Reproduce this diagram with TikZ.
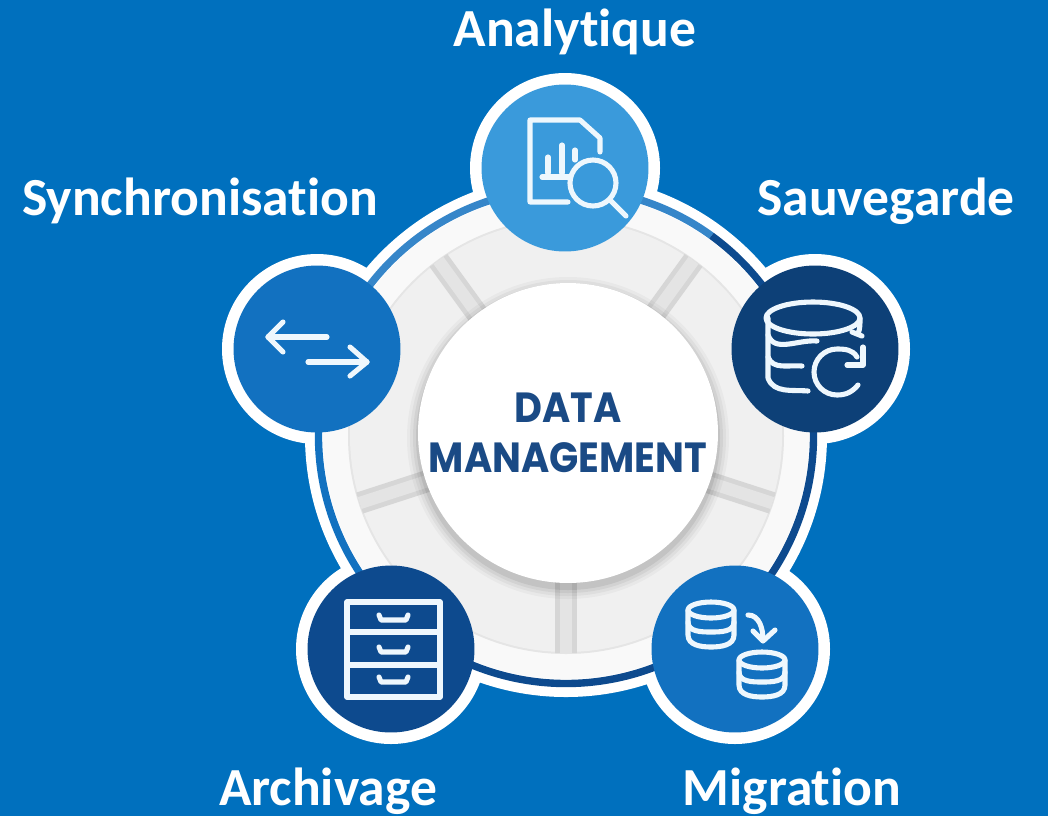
\documentclass[tikz,border=0pt]{standalone}
\usepackage{fontspec}
\setmainfont[Ligatures=NoCommon]{Carlito}
\newfontfamily\datafont[FakeStretch=0.91]{Poppins}
\definecolor{bgblue}{HTML}{0070BE}
\definecolor{lightbub}{HTML}{3A9ADB}
\definecolor{darkbub}{HTML}{0D4077}
\definecolor{midbub}{HTML}{1271C0}
\definecolor{navybub}{HTML}{0D4A8E}
\definecolor{datablue}{HTML}{1A4A85}
\definecolor{iconwhite}{HTML}{EEF7FD}
\tikzset{
	bubble/.style={circle,minimum size=3.34cm,inner sep=0pt},
	labeltext/.style={text=white,font=\bfseries\fontsize{30.5}{36}\selectfont,anchor=base,inner sep=0pt},
	icon/.style={draw=iconwhite,line width=2.9pt,line cap=round,line join=round},
	ringline/.style={line width=4.2pt},
	gapline/.style={line width=12.5pt,draw=gray!32}
}
\begin{document}
\begin{tikzpicture}[x=.02cm,y=-.02cm]
	\useasboundingbox (0,0) rectangle (1048,816);
	\fill[bgblue] (0,0) rectangle (1048,816);

	\coordinate (ringc) at (566,436);
	\coordinate (ana) at (565,168);
	\coordinate (sau) at (815,349);
	\coordinate (mig) at (735,649);
	\coordinate (arc) at (391,649);
	\coordinate (syn) at (317,349);

	% white halos, then the ring
	\foreach \c in {ana,sau,mig,arc,syn}
		\fill[white] (\c) circle[radius=95];
	\fill[white] (ringc) circle[radius=261];
	\draw[ringline,draw=midbub!85!white] (ringc) ++(-90:247.5) arc[start angle=-90,end angle=-54,radius=247.5];
	\draw[ringline,draw=navybub] (ringc) ++(-54:247.5) arc[start angle=-54,end angle=54,radius=247.5];
	\draw[ringline,draw=navybub] (ringc) ++(54:247.5) arc[start angle=54,end angle=126,radius=247.5];
	\draw[ringline,draw=midbub] (ringc) ++(126:247.5) arc[start angle=126,end angle=198,radius=247.5];
	\draw[ringline,draw=midbub!85!white] (ringc) ++(198:247.5) arc[start angle=198,end angle=270,radius=247.5];

	% grey panels
	\fill[gray!5] (ringc) circle[radius=243];
	\fill[gray!20] (ringc) circle[radius=218];
	\fill[gray!12] (ringc) circle[radius=216];
	\foreach \a in {18,90,162,234,306} {
		\draw[gapline] (ringc) -- ([shift={(\a:217)}]ringc);
		\draw[line width=7pt,draw=gray!21] (ringc) -- ([shift={(\a:217)}]ringc);
	}
	\foreach \r/\o in {161/.03,158/.04,155/.05,152/.07}
		\fill[black,opacity=\o] (568,438) circle[radius=\r];

	\node[circle,fill=white,minimum size=6cm,inner sep=0pt,align=center,text=datablue,
		font=\datafont\bfseries\fontsize{24}{28.5}\selectfont] (centre) at (568,433) {DATA\\MANAGEMENT};

	% the five bubbles
	\node[bubble,fill=lightbub] (analytique) at (ana) {};
	\node[bubble,fill=darkbub] (sauvegarde) at (sau) {};
	\node[bubble,fill=midbub] (migration) at (mig) {};
	\node[bubble,fill=navybub] (archivage) at (arc) {};
	\node[bubble,fill=midbub] (synchro) at (syn) {};

	\node[labeltext] (lana) at (575,46) {Analytique};
	\node[labeltext] (lsyn) at (200,215) {Synchronisation};
	\node[labeltext] (lsau) at (886,215) {Sauvegarde};
	\node[labeltext] (larc) at (328,805) {Archivage};
	\node[labeltext] (lmig) at (792,805) {Migration};

	% analytique icon
	\draw[icon] (568,202) -- (530,202) -- (530,120) -- (580,120) -- (600,138) -- (600,152);
	\draw[icon] (548,157) -- (548,173) (562,145) -- (562,173) (575,150) -- (575,160) (542,177) -- (570,177);
	\draw[icon] (593,183) circle[radius=23];
	\draw[icon] (610,200) -- (626,216);

	% sauvegarde icon
	\draw[icon] (813,318) ellipse[x radius=47,y radius=16];
	\draw[icon] (768,318) -- (768,378) to[out=-70,in=175] (808,391);
	\draw[icon] (768,335) to[out=-70,in=175] (817,341);
	\draw[icon] (768,357) to[out=-70,in=175] (802,366);
	\draw[icon] (858,385) to[out=230,in=0] (837,395) to[out=180,in=270] (814,372) to[out=90,in=180] (837,349) to[out=0,in=120] (857,357);
	\draw[icon] (863,347) -- (863,365) -- (847,365);
	\draw[icon] (860,318) to[out=-90,in=70] (858,334);
	\draw[icon] (852,332) -- (862,336);

	% migration icon
	\draw[icon] (711,610) ellipse[x radius=23,y radius=8];
	\draw[icon] (688,610) -- (688,635) to[out=270,in=180] (711,647) to[out=0,in=270] (734,635) -- (734,610);
	\draw[icon] (688,622) to[out=270,in=180] (711,632) to[out=0,in=270] (734,622);
	\draw[icon] (762,660) ellipse[x radius=23,y radius=8];
	\draw[icon] (739,660) -- (739,685) to[out=270,in=180] (762,697) to[out=0,in=270] (785,685) -- (785,660);
	\draw[icon] (739,672) to[out=270,in=180] (762,682) to[out=0,in=270] (785,672);
	\draw[icon] (748,615) to[out=0,in=90] (763,640);
	\draw[icon] (753,631) -- (763,641) -- (775,630);

	% archivage icon
	\draw[icon] (347,602) rectangle (440,697);
	\draw[icon] (347,632) -- (440,632) (347,665) -- (440,665);
	\foreach \y in {615,647,677}
		\draw[icon] (379,\y) -- (381,\y+5) -- (406,\y+5) -- (408,\y);

	% synchronisation icon
	\draw[icon] (327,337) -- (268,337);
	\draw[icon] (283,322) -- (268,337) -- (283,352);
	\draw[icon] (308,362) -- (367,362);
	\draw[icon] (350,347) -- (367,362) -- (350,376);
\end{tikzpicture}
\end{document}
